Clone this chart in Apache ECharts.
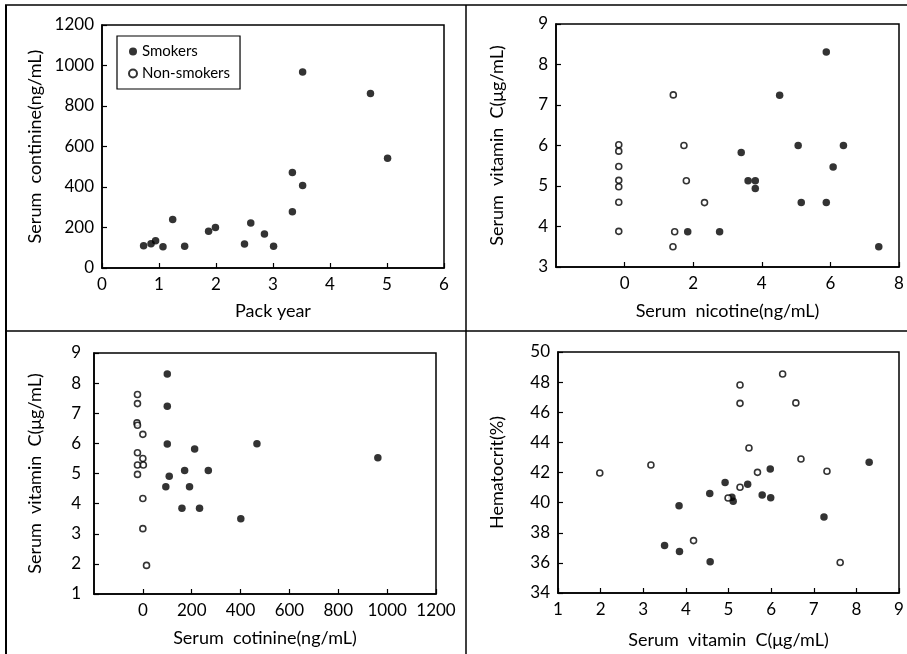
<!DOCTYPE html>
<html>
<head>
<meta charset="utf-8">
<script src="https://cdn.jsdelivr.net/npm/echarts@6/dist/echarts.min.js"></script>
<style>
  html, body { margin: 0; padding: 0; background: #fff; }
  #main { width: 907px; height: 654px; }
</style>
</head>
<body>
<div id="main"></div>
<script>
// panel 1: pack year vs serum cotinine (smokers only)
var packYearSmk = [0.73, 0.86, 0.94, 1.07, 1.24, 1.45, 1.87, 1.99, 2.50, 2.61, 2.85, 3.01, 3.34, 3.34, 3.52, 3.52, 4.71, 5.01];
var cotinineP1  = [110, 120, 135, 105, 240, 108, 182, 200, 118, 222, 168, 108, 278, 472, 407, 968, 862, 542];

// panel 2: serum nicotine vs vitamin C
var nicotineSmk = [5.88, 4.52, 3.40, 5.06, 6.38, 6.08, 3.60, 3.81, 3.81, 5.15, 5.88, 1.84, 2.77, 7.41];
var vitCSmkP2   = [8.31, 7.24, 5.83, 6.00, 6.00, 5.47, 5.13, 5.13, 4.94, 4.59, 4.59, 3.87, 3.87, 3.50];
var nicotineNon = [-0.17, -0.17, -0.17, -0.17, -0.17, -0.17, -0.17, 1.42, 1.73, 1.80, 2.33, 1.46, 1.41];
var vitCNonP2   = [6.02, 5.86, 5.48, 5.14, 4.98, 4.60, 3.88, 7.25, 6.00, 5.13, 4.59, 3.87, 3.50];

// panel 3: serum cotinine vs vitamin C
var cotinineSmk = [100, 100, 100, 212, 467, 962, 171, 268, 108, 94, 191, 160, 232, 401];
var vitCSmkP3   = [8.30, 7.23, 5.98, 5.81, 5.99, 5.52, 5.10, 5.10, 4.91, 4.56, 4.56, 3.85, 3.85, 3.50];
var cotinineNon = [-22, -22, -24, -22, 0, -22, 0, -22, 2, -22, 0, 0, 15];
var vitCNonP3   = [7.62, 7.32, 6.68, 6.60, 6.30, 5.69, 5.50, 5.28, 5.28, 4.97, 4.17, 3.17, 1.95];

// panel 4: vitamin C vs hematocrit
var vitCSmkP4 = [3.50, 3.84, 3.85, 4.56, 4.57, 4.92, 5.08, 5.11, 5.45, 5.79, 5.98, 5.99, 7.24, 8.30];
var hctSmk    = [37.15, 39.80, 36.75, 40.60, 36.08, 41.33, 40.35, 40.09, 41.22, 40.51, 42.23, 40.33, 39.05, 42.68];
var vitCNonP4 = [1.98, 3.18, 4.18, 5.27, 5.27, 6.27, 6.58, 5.48, 6.70, 5.68, 7.31, 4.99, 5.27, 7.62];
var hctNon    = [41.97, 42.50, 37.48, 47.81, 46.59, 48.54, 46.62, 43.63, 42.90, 42.01, 42.08, 40.31, 41.02, 36.02];

var FONT = 'Lato, "Open Sans", sans-serif';

function pairs(xs, ys) {
  return xs.map(function (x, i) { return [x, ys[i]]; });
}

function axis(gi, name, min, max, step, gap, hideMin, labelMargin) {
  return {
    type: 'value', gridIndex: gi, name: name, nameLocation: 'middle', nameGap: gap,
    min: min, max: max, interval: step,
    nameTextStyle: { color: '#000', fontSize: 18, fontFamily: FONT },
    axisLine: { show: true, onZero: false, lineStyle: { color: '#000', width: 1.6 } },
    axisTick: { show: true, inside: true, length: 5, lineStyle: { color: '#000', width: 1.2 } },
    axisLabel: {
      color: '#000', fontSize: 17, fontFamily: FONT, margin: labelMargin || 8, showMinLabel: !hideMin,
      formatter: function (v) { return String(v); }
    },
    splitLine: { show: false }
  };
}

function smk(gi, data) {
  return { name: 'Smokers', type: 'scatter', xAxisIndex: gi, yAxisIndex: gi, data: data,
    symbol: 'circle', symbolSize: 7.5, itemStyle: { color: '#000' } };
}
function non(gi, data) {
  return { name: 'Non-smokers', type: 'scatter', xAxisIndex: gi, yAxisIndex: gi, data: data,
    symbol: 'circle', symbolSize: 6, itemStyle: { color: '#fff', borderColor: '#000', borderWidth: 1.6 } };
}

var frame = { show: true, borderColor: '#000', borderWidth: 1.5, containLabel: false };

var myChart = echarts.init(document.getElementById('main'));
myChart.setOption({
  backgroundColor: '#fff',
  animation: false,
  grid: [
    Object.assign({ left: 102, top: 25, width: 342, height: 243 }, frame),
    Object.assign({ left: 556, top: 24, width: 343, height: 243 }, frame),
    Object.assign({ left: 94, top: 353, width: 342, height: 241 }, frame),
    Object.assign({ left: 558, top: 352, width: 341, height: 241 }, frame)
  ],
  xAxis: [
    axis(0, 'Pack year', 0, 6, 1, 34, false),
    axis(1, 'Serum  nicotine(ng/mL)', -2, 8, 2, 35, true),
    axis(2, 'Serum  cotinine(ng/mL)', -200, 1200, 200, 35, true),
    axis(3, 'Serum  vitamin  C(\u03bcg/mL)', 1, 9, 1, 38, false)
  ],
  yAxis: [
    axis(0, 'Serum  continine(ng/mL)', 0, 1200, 200, 58, false),
    axis(1, 'Serum  vitamin  C(\u03bcg/mL)', 3, 9, 1, 50, false),
    axis(2, 'Serum  vitamin  C(\u03bcg/mL)', 1, 9, 1, 50, false, 13),
    axis(3, 'Hematocrit(%)', 34, 50, 2, 52, false)
  ],
  legend: {
    data: ['Smokers', 'Non-smokers'],
    orient: 'vertical', left: 117, top: 36,
    itemWidth: 8, itemHeight: 8, itemGap: 7,
    padding: [8, 10, 8, 11],
    borderColor: '#000', borderWidth: 1.2,
    textStyle: { color: '#000', fontSize: 15, fontFamily: FONT }
  },
  // panel dividers
  graphic: [
    { type: 'line', shape: { x1: 5, y1: 5, x2: 907, y2: 5 }, style: { stroke: '#000', lineWidth: 1.5 } },
    { type: 'line', shape: { x1: 6, y1: 5, x2: 6, y2: 654 }, style: { stroke: '#000', lineWidth: 2 } },
    { type: 'line', shape: { x1: 466, y1: 5, x2: 466, y2: 654 }, style: { stroke: '#000', lineWidth: 1.5 } },
    { type: 'line', shape: { x1: 6, y1: 331, x2: 907, y2: 331 }, style: { stroke: '#000', lineWidth: 1.5 } }
  ],
  series: [
    smk(0, pairs(packYearSmk, cotinineP1)),
    smk(1, pairs(nicotineSmk, vitCSmkP2)),
    non(1, pairs(nicotineNon, vitCNonP2)),
    smk(2, pairs(cotinineSmk, vitCSmkP3)),
    non(2, pairs(cotinineNon, vitCNonP3)),
    smk(3, pairs(vitCSmkP4, hctSmk)),
    non(3, pairs(vitCNonP4, hctNon))
  ]
});
</script>
</body>
</html>
